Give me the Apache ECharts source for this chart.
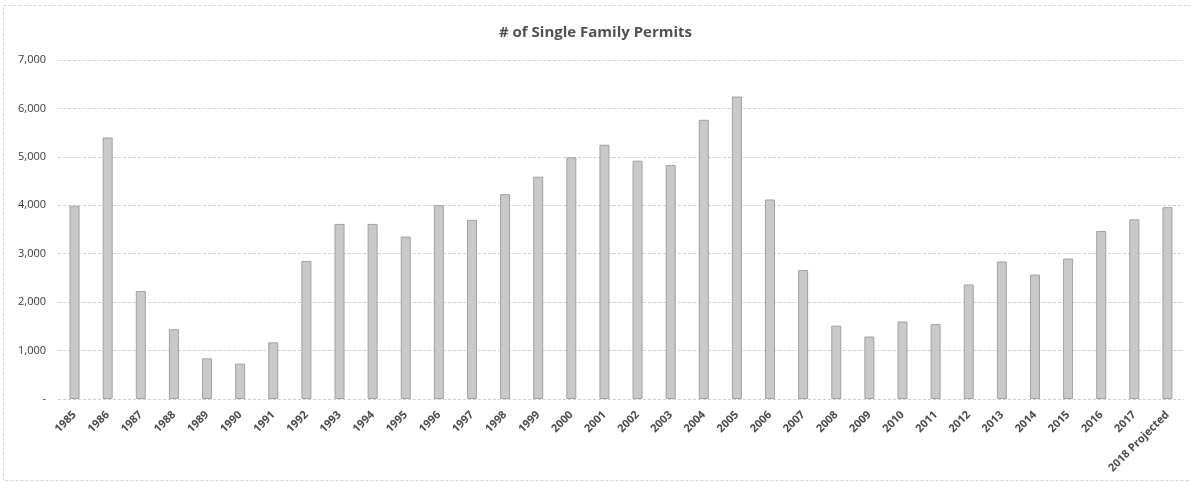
<!DOCTYPE html>
<html>
<head>
<meta charset="utf-8">
<script src="https://cdn.jsdelivr.net/npm/echarts@6/dist/echarts.min.js"></script>
<style>
  html, body { margin: 0; padding: 0; background: #ffffff; }
  #chart { width: 1191px; height: 483px; }
</style>
</head>
<body>
<div id="chart"></div>
<script>
// Single family building permits by year
const years = [
  '1985', '1986', '1987', '1988', '1989', '1990', '1991', '1992', '1993', '1994',
  '1995', '1996', '1997', '1998', '1999', '2000', '2001', '2002', '2003', '2004',
  '2005', '2006', '2007', '2008', '2009', '2010', '2011', '2012', '2013', '2014',
  '2015', '2016', '2017', '2018 Projected'
];
const permits = [
  3990, 5400, 2230, 1440, 840, 730, 1170, 2850, 3615, 3615,
  3355, 4000, 3700, 4230, 4590, 4990, 5250, 4920, 4830, 5765,
  6245, 4120, 2665, 1515, 1290, 1600, 1545, 2365, 2840, 2570,
  2900, 3470, 3710, 3960
];
const yMax = 7000;
const yStep = 1000;
const chartTitle = '# of Single Family Permits';

const chart = echarts.init(document.getElementById('chart'), null, { renderer: 'canvas' });

function formatCount(v) {
  if (v === 0) return '-';
  return v.toLocaleString('en-US');
}

chart.setOption({
  animation: false,
  backgroundColor: '#ffffff',
  title: {
    text: chartTitle,
    left: 'center',
    top: 20,
    textStyle: {
      fontFamily: 'Open Sans',
      fontSize: 15,
      fontWeight: 'bold',
      color: '#505050'
    }
  },
  graphic: [{
    type: 'rect',
    shape: { x: 3.5, y: 5.5, width: 1200, height: 475 },
    style: { fill: 'none', stroke: '#d4d4d4', lineWidth: 1, lineDash: [3, 2] },
    silent: true
  }],
  grid: {
    left: 58,
    right: 7,
    top: 60,
    bottom: 84,
    containLabel: false
  },
  xAxis: {
    type: 'category',
    data: years,
    axisLine: { show: false },
    axisTick: { show: false },
    axisLabel: {
      interval: 0,
      rotate: 45,
      margin: 14,
      fontFamily: 'Open Sans',
      fontSize: 11,
      fontWeight: 'bold',
      color: '#4a4a4a'
    }
  },
  yAxis: {
    type: 'value',
    min: 0,
    max: yMax,
    interval: yStep,
    axisLine: { show: false },
    axisTick: { show: false },
    axisLabel: {
      margin: 12,
      fontFamily: 'Open Sans',
      fontSize: 11,
      color: '#3a3a3a',
      formatter: formatCount
    },
    splitLine: {
      show: true,
      lineStyle: { color: '#cfcfcf', type: [3, 2], width: 1 }
    }
  },
  series: [{
    type: 'bar',
    data: permits,
    barWidth: 10,
    itemStyle: {
      color: '#c9c9c9',
      borderColor: '#a0a0a0',
      borderWidth: 1
    }
  }]
});
</script>
</body>
</html>
